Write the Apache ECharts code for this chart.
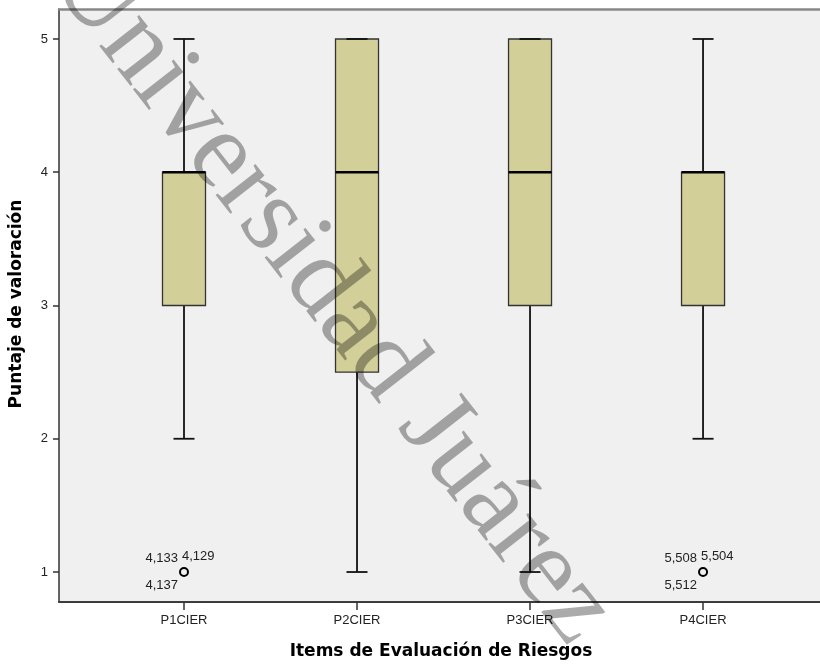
<!DOCTYPE html>
<html>
<head>
<meta charset="utf-8">
<script src="https://cdn.jsdelivr.net/npm/echarts@6/dist/echarts.min.js"></script>
<style>html,body{margin:0;padding:0;background:#fff}#c{width:820px;height:668px}</style>
</head>
<body>
<div id="c"></div>
<script>
const categories = ['P1CIER', 'P2CIER', 'P3CIER', 'P4CIER'];
const whiskerLow = [2, 1, 1, 2];
const q1 = [3, 2.5, 3, 3];
const median = [4, 4, 4, 4];
const q3 = [4, 5, 5, 4];
const whiskerHigh = [5, 5, 5, 5];
const outlierCategory = [1, 4];
const outlierValue = [1, 1];
const outlierLabels = [['4,133', '4,129', '4,137'], ['5,508', '5,504', '5,512']];
const yTicks = [1, 2, 3, 4, 5];
const xTicks = [1, 2, 3, 4];
const xTitle = 'Items de Evaluación de Riesgos';
const yTitle = 'Puntaje de valoración';
const watermark = 'Universidad Juárez';

const boxData = categories.map((c, i) => [i + 1, whiskerLow[i], q1[i], median[i], q3[i], whiskerHigh[i]]);
const outlierData = outlierCategory.map((c, i) => [c, outlierValue[i], i]);

const chart = echarts.init(document.getElementById('c'), null, {renderer: 'canvas'});

function renderBox(params, api) {
  const x = api.value(0);
  const pLo = api.coord([x, api.value(1)]);
  const pQ1 = api.coord([x, api.value(2)]);
  const pMed = api.coord([x, api.value(3)]);
  const pQ3 = api.coord([x, api.value(4)]);
  const pHi = api.coord([x, api.value(5)]);
  const cx = pLo[0];
  const bw = 43, cw = 21;
  const wStyle = {stroke: '#111', lineWidth: 1.8};
  return {
    type: 'group',
    children: [
      {type: 'line', shape: {x1: cx, y1: pHi[1], x2: cx, y2: pQ3[1]}, style: wStyle},
      {type: 'line', shape: {x1: cx, y1: pQ1[1], x2: cx, y2: pLo[1]}, style: wStyle},
      {type: 'rect', shape: {x: cx - bw / 2, y: pQ3[1], width: bw, height: pQ1[1] - pQ3[1]},
        style: {fill: '#d3cf98', stroke: '#333', lineWidth: 1.3}},
      {type: 'line', shape: {x1: cx - bw / 2, y1: pMed[1], x2: cx + bw / 2, y2: pMed[1]},
        style: {stroke: '#000', lineWidth: 2.4}},
      {type: 'line', shape: {x1: cx - cw / 2, y1: pHi[1], x2: cx + cw / 2, y2: pHi[1]}, style: wStyle},
      {type: 'line', shape: {x1: cx - cw / 2, y1: pLo[1], x2: cx + cw / 2, y2: pLo[1]}, style: wStyle}
    ]
  };
}

function renderOutlier(params, api) {
  const p = api.coord([api.value(0), api.value(1)]);
  const labs = outlierLabels[api.value(2)];
  const font = '13px "Liberation Sans", Arial, sans-serif';
  return {
    type: 'group',
    children: [
      {type: 'circle', shape: {cx: p[0], cy: p[1], r: 4}, style: {fill: 'none', stroke: '#000', lineWidth: 2}},
      {type: 'text', x: p[0] - 6, y: p[1] - 14, style: {text: labs[0], font: font, fill: '#222', align: 'right', verticalAlign: 'middle'}},
      {type: 'text', x: p[0] - 2, y: p[1] - 16, style: {text: labs[1], font: font, fill: '#222', align: 'left', verticalAlign: 'middle'}},
      {type: 'text', x: p[0] - 6, y: p[1] + 13, style: {text: labs[2], font: font, fill: '#222', align: 'right', verticalAlign: 'middle'}}
    ]
  };
}

const option = {
  animation: false,
  grid: {left: 59, top: 9, right: 0, bottom: 66, show: true, backgroundColor: '#f0f0f0', borderWidth: 0},
  xAxis: [{
    type: 'value', min: 0.2775, max: 4.676, position: 'bottom',
    splitLine: {show: false},
    axisLine: {show: true, lineStyle: {color: '#3c3c3c', width: 2}},
    axisTick: {show: true, customValues: xTicks, length: 8, lineStyle: {color: '#333', width: 1.5}},
    axisLabel: {show: true, customValues: xTicks, margin: 12, formatter: v => categories[Math.round(v) - 1],
      color: '#222', fontSize: 13, fontFamily: '"Liberation Sans", Arial, sans-serif'}
  }, {
    type: 'value', min: 0.2775, max: 4.676, position: 'top',
    splitLine: {show: false},
    axisLine: {show: true, lineStyle: {color: '#888', width: 2.5}},
    axisTick: {show: false}, axisLabel: {show: false}
  }],
  yAxis: {
    type: 'value', min: 0.775, max: 5.225,
    splitLine: {show: false},
    axisLine: {show: true, lineStyle: {color: '#333', width: 1.5}},
    axisTick: {show: true, customValues: yTicks, length: 6, lineStyle: {color: '#333', width: 1.5}},
    axisLabel: {show: true, customValues: yTicks, margin: 11, formatter: v => String(v),
      color: '#222', fontSize: 13, fontFamily: '"Liberation Sans", Arial, sans-serif'}
  },
  series: [
    {type: 'custom', renderItem: renderBox, data: boxData, xAxisIndex: 0, clip: false},
    {type: 'custom', renderItem: renderOutlier, data: outlierData, xAxisIndex: 0, clip: false}
  ],
  graphic: [
    {type: 'text', x: 441, y: 652, z: 50, style: {text: xTitle, font: 'bold 17px "DejaVu Sans", sans-serif', fill: '#000', align: 'center', verticalAlign: 'middle'}},
    {type: 'text', x: 17, y: 304, rotation: Math.PI / 2, z: 50, style: {text: yTitle, font: 'bold 17px "DejaVu Sans", sans-serif', fill: '#000', align: 'center', verticalAlign: 'middle'}},
    {type: 'text', x: 332, y: 297, rotation: -52 * Math.PI / 180, z: 100, silent: true,
      style: {text: watermark, font: '110px "Liberation Serif", "Times New Roman", serif', fill: 'rgba(0,0,0,0.33)', align: 'center', verticalAlign: 'middle'}}
  ]
};
chart.setOption(option);
</script>
</body>
</html>
